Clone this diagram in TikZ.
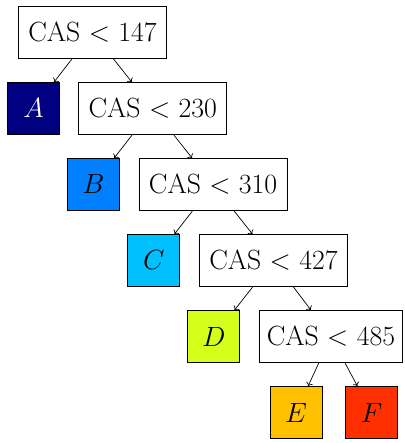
\documentclass[tikz,border=0pt]{standalone}
\usepackage{fix-cm}
\usetikzlibrary{arrows.meta}
\definecolor{clsA}{RGB}{0,0,128}
\definecolor{clsB}{RGB}{0,128,255}
\definecolor{clsC}{RGB}{0,192,255}
\definecolor{clsD}{RGB}{212,255,26}
\definecolor{clsE}{RGB}{255,192,0}
\definecolor{clsF}{RGB}{255,48,0}
\begin{document}
\begin{tikzpicture}[x=1pt,y=-1pt,
  font=\fontsize{27.8}{32}\selectfont,
  test/.style={draw, fill=white, line width=0.9pt, minimum width=148pt,
    minimum height=52pt, inner sep=0pt},
  leaf/.style={draw, line width=0.9pt, minimum size=52pt, inner sep=0pt},
  link/.style={-{To[length=3.5pt,width=7pt]}, line width=0.7pt}]
\clip (0,0) rectangle (404,443);
\useasboundingbox (0,0) rectangle (404,443);

% decision nodes
\node[test] (t1) at (92.5,32.5)  {CAS $<$ 147};
\node[test] (t2) at (152.8,108.5) {CAS $<$ 230};
\node[test] (t3) at (213.1,184.5) {CAS $<$ 310};
\node[test] (t4) at (273.4,260.5) {CAS $<$ 427};
\node[test, minimum width=143pt] (t5) at (330.9,336.5) {CAS $<$ 485};

% class leaves
\node[leaf, fill=clsA, text=white] (lA) at (33.5,108.5)  {$A$};
\node[leaf, fill=clsB] (lB) at (93.5,184.5)  {$B$};
\node[leaf, fill=clsC] (lC) at (153.8,260.5) {$C$};
\node[leaf, fill=clsD] (lD) at (213.8,336.5) {$D$};
\node[leaf, fill=clsE] (lE) at (296,412.5)   {$E$};
\node[leaf, fill=clsF] (lF) at (371.5,412.5) {$F$};

% edges
\draw[link] (t1) -- (lA);
\draw[link] (t1) -- (t2);
\draw[link] (t2) -- (lB);
\draw[link] (t2) -- (t3);
\draw[link] (t3) -- (lC);
\draw[link] (t3) -- (t4);
\draw[link] (t4) -- (lD);
\draw[link] (t4) -- (t5);
\draw[link] (t5) -- (lE);
\draw[link] (t5) -- (lF);
\end{tikzpicture}
\end{document}
